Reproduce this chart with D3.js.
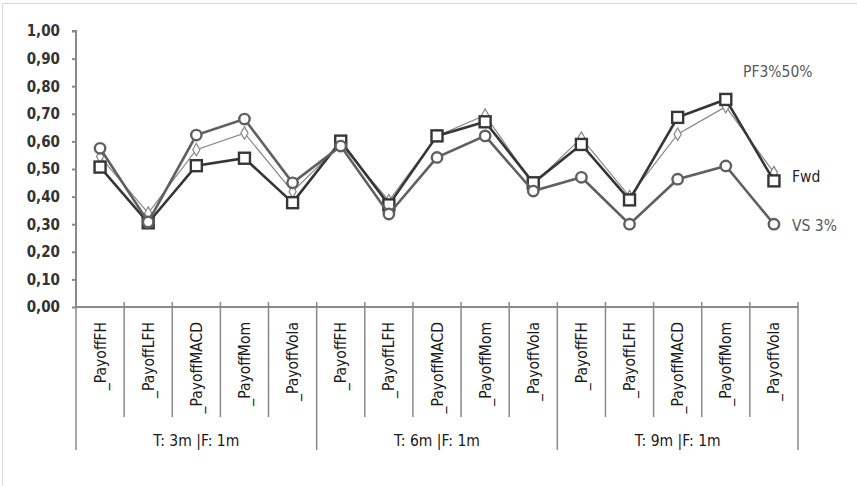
<!DOCTYPE html>
<html>
<head>
<meta charset="utf-8">
<script src="https://cdn.jsdelivr.net/npm/d3@7"></script>
<style>
  html, body { margin: 0; padding: 0; background: #fff; }
  svg { display: block; }
  text { font-family: "DejaVu Sans Condensed", "DejaVu Sans", sans-serif; font-stretch: condensed; }
</style>
</head>
<body>
<svg id="chart" width="857" height="486"></svg>
<script>
// ---- data ----
const groups = ["T: 3m |F: 1m", "T: 6m |F: 1m", "T: 9m |F: 1m"];
const strategies = ["_PayoffFH", "_PayoffLFH", "_PayoffMACD", "_PayoffMom", "_PayoffVola"];
const yTicks = [0, 0.1, 0.2, 0.3, 0.4, 0.5, 0.6, 0.7, 0.8, 0.9, 1.0];

const seriesPF  = [0.545, 0.34, 0.57, 0.63, 0.418,  0.59, 0.385, 0.62, 0.695, 0.445,  0.612, 0.40, 0.626, 0.726, 0.487];
const seriesFwd = [0.507, 0.305, 0.512, 0.539, 0.378,  0.601, 0.37, 0.62, 0.671, 0.45,  0.589, 0.388, 0.687, 0.752, 0.457];
const seriesVS  = [0.575, 0.308, 0.623, 0.681, 0.45,  0.583, 0.337, 0.542, 0.62, 0.42,  0.47, 0.30, 0.463, 0.511, 0.30];

const seriesNames = ["PF3%50%", "Fwd", "VS 3%"];

// ---- build ----
const cats = [];
groups.forEach((g, gi) => strategies.forEach((s, si) => cats.push({ key: gi + "|" + si, group: g, name: s })));

const svg = d3.select("#chart");

// chart area border
svg.append("rect").attr("x", 2.5).attr("y", 3.5).attr("width", 900).attr("height", 600)
  .attr("fill", "#fff").attr("stroke", "#d9d9d9").attr("stroke-width", 1);

const x = d3.scaleBand().domain(cats.map(c => c.key)).range([76, 798]).padding(0);
const y = d3.scaleLinear().domain([0, 1]).range([307, 31]);

const axisColor = "#898989";

// Y axis
const yAxis = d3.axisLeft(y).tickValues(yTicks).tickSize(4).tickPadding(12)
  .tickFormat(d => d3.format(".2f")(d).replace(".", ","));
const gy = svg.append("g").attr("transform", "translate(76,0)").call(yAxis);
gy.select(".domain").attr("stroke", axisColor).attr("stroke-width", 2).attr("d", "M-4,31H0V307");
gy.selectAll(".tick line").attr("stroke", axisColor).attr("stroke-width", 2);
gy.selectAll(".tick text").attr("fill", "#333").attr("font-size", 15).attr("font-weight", "bold");

// X axis line
svg.append("line").attr("x1", 76).attr("x2", 798).attr("y1", y(0)).attr("y2", y(0))
  .attr("stroke", axisColor).attr("stroke-width", 2);

// category separators
const bw = x.bandwidth();
cats.forEach((c, i) => {
  const xl = x(c.key);
  const isGroupEdge = (i % strategies.length) === 0;
  svg.append("line").attr("x1", xl).attr("x2", xl)
    .attr("y1", i === 0 ? y(0) : y(0) - 5)
    .attr("y2", isGroupEdge ? 450 : 417)
    .attr("stroke", axisColor).attr("stroke-width", 1.5);
});
svg.append("line").attr("x1", 798).attr("x2", 798).attr("y1", y(0) - 5).attr("y2", 450)
  .attr("stroke", axisColor).attr("stroke-width", 1.5);

// category labels (rotated)
cats.forEach(c => {
  const cx = x(c.key) + bw / 2;
  svg.append("text")
    .attr("transform", `translate(${cx + 5.5},322) rotate(-90)`)
    .attr("text-anchor", "end")
    .attr("font-size", 15.5)
    .attr("fill", "#1a1a1a")
    .text(c.name);
});

// group labels
groups.forEach((g, gi) => {
  const first = x(gi + "|0");
  const last = x(gi + "|" + (strategies.length - 1)) + bw;
  svg.append("text")
    .attr("x", (first + last) / 2).attr("y", 446)
    .attr("text-anchor", "middle")
    .attr("font-size", 15.5)
    .attr("fill", "#1a1a1a")
    .text(g);
});

// series
const cx = (i) => x(cats[i].key) + bw / 2;
const line = d3.line().x((d, i) => cx(i)).y(d => y(d));

// PF3%50% (diamonds, thin)
svg.append("path").datum(seriesPF).attr("d", line)
  .attr("fill", "none").attr("stroke", "#868686").attr("stroke-width", 1.2);
svg.selectAll(".pf").data(seriesPF).enter().append("path")
  .attr("d", d3.symbol().type(d3.symbolDiamond).size(45))
  .attr("transform", (d, i) => `translate(${cx(i)},${y(d)})`)
  .attr("fill", "#fff").attr("stroke", "#868686").attr("stroke-width", 1.2);

// Fwd (squares, dark)
svg.append("path").datum(seriesFwd).attr("d", line)
  .attr("fill", "none").attr("stroke", "#363636").attr("stroke-width", 2.6);
svg.selectAll(".fwd").data(seriesFwd).enter().append("rect")
  .attr("x", (d, i) => cx(i) - 5.5).attr("y", d => y(d) - 5.5)
  .attr("width", 11).attr("height", 11)
  .attr("fill", "#fff").attr("stroke", "#363636").attr("stroke-width", 2.4);

// VS 3% (circles, mid gray)
svg.append("path").datum(seriesVS).attr("d", line)
  .attr("fill", "none").attr("stroke", "#606060").attr("stroke-width", 2.6);
svg.selectAll(".vs").data(seriesVS).enter().append("circle")
  .attr("cx", (d, i) => cx(i)).attr("cy", d => y(d)).attr("r", 5.2)
  .attr("fill", "#fff").attr("stroke", "#606060").attr("stroke-width", 2.4);

// series labels
svg.append("text").attr("x", 743).attr("y", 77).attr("font-size", 15.5).attr("fill", "#595959")
  .text(seriesNames[0]);
svg.append("text").attr("x", 792).attr("y", 182).attr("font-size", 15.5).attr("fill", "#262626")
  .text(seriesNames[1]);
svg.append("text").attr("x", 792).attr("y", 231).attr("font-size", 15.5).attr("fill", "#595959")
  .text(seriesNames[2]);
</script>
</body>
</html>
